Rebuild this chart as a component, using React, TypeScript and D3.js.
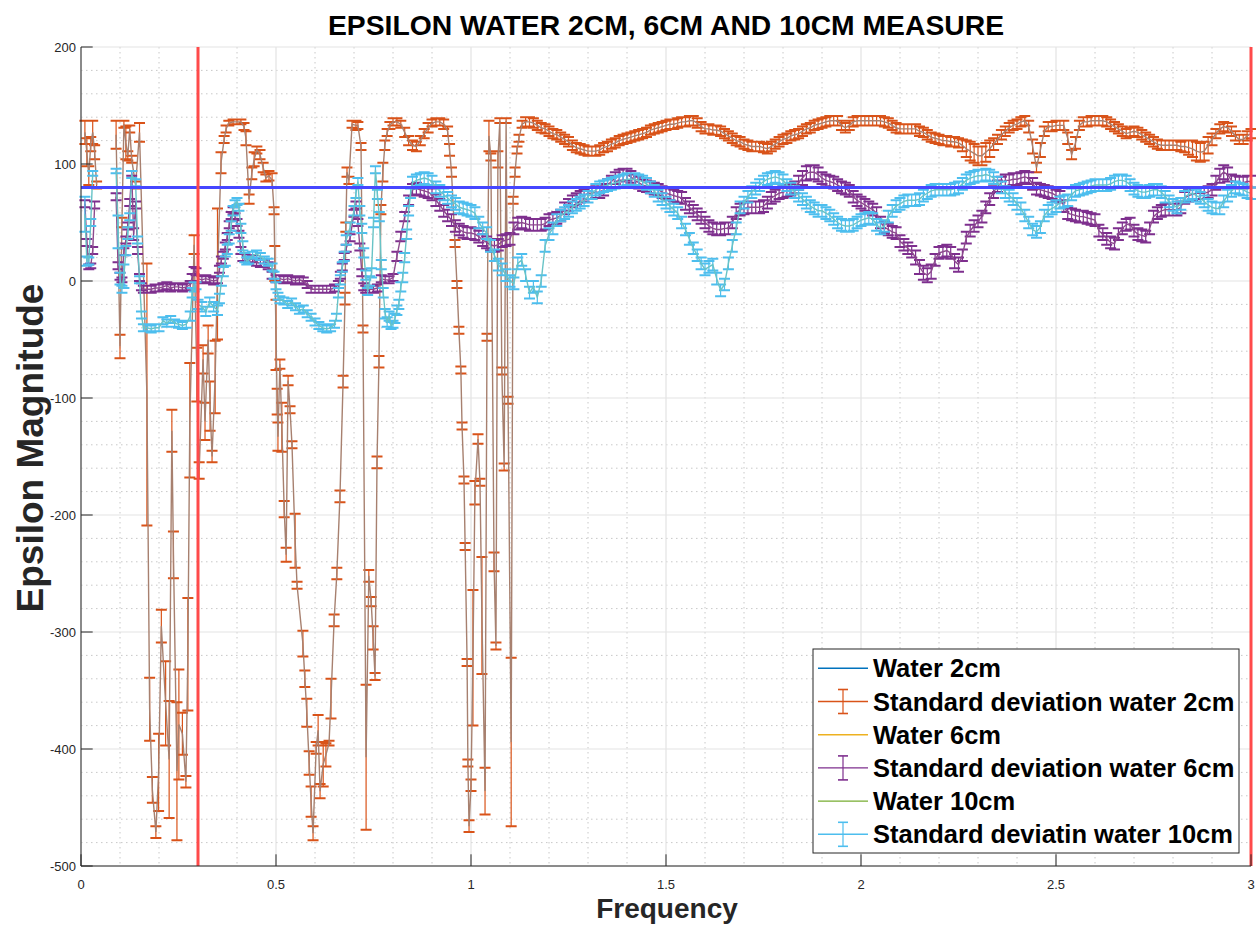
import React from "react";
import * as d3 from "d3";

type Pt = [number, number | null, number];

const TITLE = "EPSILON WATER 2CM, 6CM AND 10CM MEASURE";
const X_LABEL = "Frequency";
const Y_LABEL = "Epsilon Magnitude";
const X_TICKS = [0, 0.5, 1, 1.5, 2, 2.5, 3];
const Y_TICKS = [200, 100, 0, -100, -200, -300, -400, -500];
const REF_EPS = 80;
const REF_FREQS = [0.3, 3];
const LEGEND_ITEMS = [
  { label: "Water 2cm", color: "#0072BD", bar: false },
  { label: "Standard deviation water 2cm", color: "#D95319", bar: true },
  { label: "Water 6cm", color: "#EDB120", bar: false },
  { label: "Standard deviation water 6cm", color: "#7E2F8E", bar: true },
  { label: "Water 10cm", color: "#77AC30", bar: false },
  { label: "Standard deviatin water 10cm", color: "#4DBEEE", bar: true },
];

// [frequency, epsilon mean, standard deviation]
const SD_2CM: Pt[] = [
  [0.010,127,10],[0.015,110,12],[0.020,90,8],[0.025,117,6],[0.030,127,10],[0.035,110,6],[0.040,82,3],[0.060,null,0],
  [0.090,125,12],[0.100,-56,10],[0.105,50,4],[0.110,134,3],[0.115,118,14],[0.120,107,4],[0.125,130,3],[0.130,104,3],[0.140,82,3],[0.150,127,8],
  [0.169,-97,112],[0.176,-366,27],[0.183,-435,11],[0.192,-471,5],[0.199,-420,33],[0.206,-295,14],[0.217,-361,36],[0.226,-409,50],[0.233,-128,18],[0.237,-234,20],[0.246,-419,59],[0.251,-379,47],[0.260,-387,18],[0.269,-428,5],[0.274,-319,48],[0.279,-119,49],[0.290,31,8],
  [0.297,-80,23],[0.303,-162,7],[0.313,-67,12],[0.318,-120,16],[0.326,-50,12],[0.331,-107,21],[0.336,-150,5],[0.344,-82,31],[0.350,6,56],[0.359,101,9],[0.367,121,3],[0.372,130,3],[0.379,135,2],[0.390,136,2],[0.400,136,2],[0.410,136,2],[0.418,132,3],[0.423,122,6],[0.431,70,4],[0.438,92,5],[0.444,104,6],[0.451,112,3],[0.459,108,4],[0.467,97,4],[0.474,88,3],[0.482,90,4],[0.490,86,6],[0.495,60,3],[0.497,15,15],
  [0.500,-46,30],[0.503,-103,11],[0.505,-133,12],[0.510,-71,4],[0.515,-125,21],[0.521,-195,7],[0.526,-234,6],[0.531,-85,4],[0.536,-110,3],[0.541,-140,3],[0.549,-222,23],[0.554,-260,3],[0.569,-310,11],[0.574,-340,7],[0.579,-369,12],[0.585,-412,10],[0.590,-445,13],[0.595,-472,6],[0.603,-399,5],[0.608,-384,13],[0.613,-436,6],[0.621,-413,19],[0.628,-405,10],[0.636,-395,2],[0.641,-357,17],[0.649,-290,5],[0.656,-250,5],[0.664,-184,5],[0.672,-86,5],[0.677,-15,5],[0.679,46,4],[0.682,93,4],[0.687,86,3],[0.695,134,3],[0.705,133,4],[0.710,133,3],[0.718,115,3],[0.723,-41,3],[0.731,-407,62],[0.738,-252,5],[0.744,-274,4],[0.749,-305,10],[0.754,-338,3],[0.759,-155,5],[0.764,-69,5],[0.769,61,4],[0.774,93,8],[0.779,116,4],[0.785,127,3],[0.792,133,3],
  [0.800,136,3],[0.810,136,3],[0.820,134,3],[0.830,127,4],[0.840,120,4],[0.850,116,4],[0.860,115,4],[0.870,120,4],[0.880,126,4],[0.890,131,4],[0.900,135,3],[0.910,136,3],[0.920,136,3],[0.930,134,4],[0.940,128,4],[0.945,112,5],[0.950,93,4],[0.959,32,3],[0.964,-3,3],[0.969,-42,3],[0.974,-76,3],[0.977,-124,3],[0.982,-170,3],[0.985,-227,3],[0.990,-326,3],[0.992,-412,3],[0.995,-466,5],[1.000,-431,5],[1.005,-322,58],[1.010,-181,10],[1.018,-135,4],[1.023,-172,3],[1.028,-286,50],[1.036,-436,20],[1.041,-48,3],[1.046,124,13],[1.051,106,3],[1.059,-240,8],[1.064,-312,3],[1.069,104,7],[1.074,137,2],[1.079,-77,3],[1.085,-159,3],[1.090,137,2],[1.095,-102,3],[1.103,-394,72],[1.108,69,3],[1.113,93,4],[1.118,112,3],[1.123,122,3],[1.131,134,3],
  [1.14,136,4],[1.15,136,4],[1.16,135,4],[1.17,133,4],[1.18,131,4],[1.19,130,4],[1.20,128,4],[1.21,126,4],[1.22,125,4],[1.23,123,4],[1.24,121,4],[1.25,119,4],[1.26,116,4],[1.27,114,4],[1.28,113,4],[1.29,112,4],[1.30,111,4],[1.31,111,4],[1.32,111,4],[1.33,112,4],[1.34,114,4],[1.35,115,4],[1.36,117,4],[1.37,118,4],[1.38,120,4],[1.39,121,4],[1.40,122,4],[1.41,123,4],[1.42,124,4],[1.43,125,4],[1.44,126,4],[1.45,127,4],[1.46,129,4],[1.47,130,4],[1.48,131,4],[1.49,132,4],[1.50,133,4],[1.51,134,4],[1.52,134,4],[1.53,135,4],[1.54,136,4],[1.55,136,4],[1.56,137,4],[1.57,137,4],[1.58,135,4],[1.59,132,4],[1.60,130,4],[1.61,130,4],[1.62,129,4],[1.63,129,4],[1.64,128,4],[1.65,126,4],[1.66,124,4],[1.67,122,4],[1.68,120,4],[1.69,119,4],[1.70,117,4],[1.71,116,4],[1.72,115,4],[1.73,115,4],[1.74,115,4],[1.75,114,4],[1.76,113,4],[1.77,115,4],[1.78,117,4],[1.79,119,4],[1.80,121,4],[1.81,122,4],[1.82,124,4],[1.83,125,4],[1.84,126,4],[1.85,128,4],[1.86,130,4],[1.87,131,4],[1.88,133,4],[1.89,134,4],[1.90,135,4],[1.91,136,4],[1.92,137,4],[1.93,137,4],[1.94,137,4],[1.95,133,4],[1.96,131,4],[1.97,133,4],[1.98,136,4],[1.99,137,4],
  [2.00,137,4],[2.01,137,4],[2.02,137,4],[2.03,137,4],[2.04,137,4],[2.05,137,4],[2.06,136,4],[2.07,135,4],[2.08,133,4],[2.09,131,4],[2.10,130,4],[2.11,130,4],[2.12,130,4],[2.13,130,4],[2.14,130,4],[2.15,128,4],[2.16,127,4],[2.17,125,4],[2.18,123,4],[2.19,122,4],[2.20,121,4],[2.21,120,4],[2.22,120,4],[2.23,119,4],[2.24,119,4],[2.25,118,4],[2.26,116,5],[2.27,113,7],[2.28,111,8],[2.29,109,8],[2.30,107,8],[2.31,107,8],[2.32,110,8],[2.33,113,7],[2.34,117,5],[2.35,121,4],[2.36,125,4],[2.37,128,4],[2.38,131,4],[2.39,133,4],[2.40,134,4],[2.41,136,4],[2.42,137,4],[2.43,132,5],[2.44,115,6],[2.45,97,4],[2.46,112,6],[2.47,128,4],[2.48,132,4],[2.49,132,4],[2.50,133,4],[2.51,133,4],[2.52,133,4],[2.53,122,5],[2.54,108,4],[2.55,118,5],[2.56,133,4],[2.57,136,4],[2.58,136,4],[2.59,137,4],[2.60,137,4],[2.61,137,4],[2.62,137,4],[2.63,136,4],[2.64,134,4],[2.65,132,4],[2.66,130,4],[2.67,128,4],[2.68,126,4],[2.69,127,4],[2.70,128,4],[2.71,127,4],[2.72,125,4],[2.73,123,4],[2.74,121,4],[2.75,119,4],[2.76,117,4],[2.77,116,4],[2.78,116,4],[2.79,116,4],[2.80,116,4],[2.81,116,4],[2.82,115,4],[2.83,115,5],[2.84,114,6],[2.85,113,7],[2.86,111,8],[2.87,110,8],[2.88,111,8],[2.89,116,7],[2.90,121,5],[2.91,126,4],[2.92,130,4],[2.93,132,4],[2.94,131,4],[2.95,128,4],[2.96,124,4],[2.97,121,4],[2.98,121,4],[2.99,124,4],[3.00,126,4],
];

const SD_6CM: Pt[] = [
  [0.010,66,3],[0.015,33,3],[0.020,12,2],[0.025,13,2],[0.030,26,3],[0.035,65,3],[0.060,null,0],
  [0.090,72,3],[0.095,13,3],[0.100,4,3],[0.105,1,2],[0.110,25,3],[0.115,35,3],[0.120,47,3],[0.125,67,3],[0.130,92,2],[0.135,40,5],[0.140,65,3],[0.145,26,3],[0.150,3,3],[0.155,-5,3],
  [0.160,-7,3],[0.170,-7,3],[0.180,-7,3],[0.190,-6,3],[0.200,-6,3],[0.210,-5,3],[0.220,-4,3],[0.230,-6,3],[0.240,-5,3],[0.250,-5,3],[0.260,-6,3],[0.270,-5,3],[0.280,-3,3],[0.285,3,3],[0.290,9,3],[0.295,8,3],[0.300,2,3],[0.310,1,3],[0.320,2,3],[0.330,1,3],[0.340,0,3],[0.350,1,3],[0.355,10,3],[0.360,18,3],[0.365,22,3],[0.370,30,3],[0.375,38,3],[0.380,48,3],[0.385,56,3],[0.390,60,3],[0.395,55,3],[0.400,50,3],[0.405,40,3],[0.410,26,3],[0.415,20,3],[0.420,20,3],[0.430,18,3],[0.440,19,3],[0.450,16,3],[0.460,15,3],[0.470,15,3],[0.480,13,3],[0.490,5,3],
  [0.500,2,3],[0.510,2,3],[0.520,1,3],[0.530,2,3],[0.540,1,3],[0.550,0,3],[0.560,1,3],[0.570,0,3],[0.580,-3,3],[0.590,-7,3],[0.600,-7,3],[0.610,-7,3],[0.620,-7,3],[0.630,-7,3],[0.640,-7,3],[0.650,-6,3],[0.660,-3,3],[0.665,5,3],[0.670,12,3],[0.675,21,3],[0.680,28,3],[0.690,37,3],[0.700,58,3],[0.705,65,3],[0.710,50,3],[0.715,29,3],[0.720,7,3],[0.725,-5,3],[0.730,-7,3],[0.740,-7,3],[0.750,-7,3],[0.760,-6,3],[0.770,2,3],[0.780,1,3],[0.790,1,3],
  [0.800,3,3],[0.810,21,4],[0.820,38,4],[0.830,55,4],[0.840,69,4],[0.850,78,5],[0.86,79,5],[0.87,78,5],[0.88,77,5],[0.89,76,5],[0.90,74,5],[0.91,69,5],[0.92,65,5],[0.93,60,5],[0.94,56,5],[0.95,52,5],[0.96,47,5],[0.97,44,5],[0.98,42,5],[0.99,41,5],
  [1.00,41,5],[1.01,40,5],[1.02,38,5],[1.03,35,5],[1.04,33,5],[1.05,31,5],[1.06,30,5],[1.07,31,5],[1.08,34,5],[1.09,35,5],[1.10,36,5],[1.11,45,5],[1.12,49,5],[1.13,50,5],[1.14,49,5],[1.15,48,5],[1.16,48,5],[1.17,48,5],[1.18,48,5],[1.19,49,5],[1.20,52,5],[1.21,53,5],[1.22,54,5],[1.23,56,5],[1.24,62,5],[1.25,65,5],[1.26,68,5],[1.27,70,5],[1.28,72,5],[1.29,73,5],[1.30,75,5],[1.31,75,5],[1.32,76,5],[1.33,76,5],[1.34,78,5],[1.35,82,5],[1.36,85,5],[1.37,88,5],[1.38,90,5],[1.39,91,5],[1.40,91,5],[1.41,89,5],[1.42,86,5],[1.43,84,5],[1.44,82,5],[1.45,81,5],[1.46,80,5],[1.47,79,5],[1.48,78,5],[1.49,76,5],[1.50,75,5],[1.51,74,5],[1.52,73,5],[1.53,72,5],[1.54,71,5],[1.55,66,5],[1.56,63,5],[1.57,60,5],[1.58,57,5],[1.59,54,5],[1.60,50,5],[1.61,47,5],[1.62,45,5],[1.63,44,5],[1.64,44,5],[1.65,45,5],[1.66,45,5],[1.67,50,5],[1.68,58,5],[1.69,61,5],[1.70,62,5],[1.71,63,5],[1.72,63,5],[1.73,63,5],[1.74,63,5],[1.75,64,5],[1.76,67,5],[1.77,71,5],[1.78,73,5],[1.79,75,5],[1.80,76,5],[1.81,77,5],[1.82,78,5],[1.83,80,5],[1.84,84,6],[1.85,88,6],[1.86,92,6],[1.87,93,6],[1.88,93,6],[1.89,91,6],[1.90,88,5],[1.91,86,5],[1.92,85,5],[1.93,84,5],[1.94,82,5],[1.95,80,5],[1.96,79,5],[1.97,77,5],[1.98,72,5],[1.99,69,5],
  [2.00,67,5],[2.01,65,5],[2.02,63,5],[2.03,61,5],[2.04,58,5],[2.05,50,5],[2.06,46,5],[2.07,44,5],[2.08,42,5],[2.09,41,5],[2.10,34,5],[2.11,31,5],[2.12,28,5],[2.13,25,5],[2.14,20,6],[2.15,12,6],[2.16,7,6],[2.17,5,6],[2.18,8,6],[2.19,18,5],[2.20,24,5],[2.21,25,5],[2.22,26,5],[2.23,24,5],[2.24,17,6],[2.25,14,6],[2.26,22,5],[2.27,37,5],[2.28,43,5],[2.29,47,5],[2.30,51,5],[2.31,55,5],[2.32,63,5],[2.33,70,5],[2.34,76,5],[2.35,81,5],[2.36,84,5],[2.37,86,5],[2.38,86,5],[2.39,87,5],[2.40,87,5],[2.41,88,5],[2.42,89,5],[2.43,88,5],[2.44,83,5],[2.45,79,5],[2.46,78,5],[2.47,77,5],[2.48,76,5],[2.49,75,5],[2.50,73,5],[2.51,72,5],[2.52,64,5],[2.53,58,5],[2.54,57,5],[2.55,56,5],[2.56,55,5],[2.57,55,5],[2.58,54,5],[2.59,53,5],[2.60,52,5],[2.61,43,5],[2.62,40,5],[2.63,36,5],[2.64,33,5],[2.65,32,5],[2.66,40,5],[2.67,45,5],[2.68,48,5],[2.69,49,5],[2.70,43,5],[2.71,40,5],[2.72,39,5],[2.73,38,5],[2.74,45,5],[2.75,55,5],[2.76,58,5],[2.77,60,5],[2.78,61,5],[2.79,61,5],[2.80,61,5],[2.81,61,5],[2.82,63,5],[2.83,71,5],[2.84,73,5],[2.85,74,5],[2.86,75,5],[2.87,75,5],[2.88,75,5],[2.89,76,5],[2.90,78,5],[2.91,84,6],[2.92,90,6],[2.93,93,6],[2.94,91,6],[2.95,86,5],[2.96,85,5],[2.97,84,5],[2.98,84,5],[2.99,85,5],[3.00,85,5],
];

const SD_10CM: Pt[] = [
  [0.010,57,15],[0.015,17,4],[0.020,17,3],[0.025,50,3],[0.030,92,2],[0.060,null,0],
  [0.090,94,2],[0.095,42,14],[0.100,2,5],[0.105,-7,3],[0.110,4,10],[0.115,26,4],[0.120,41,5],[0.125,55,3],[0.130,91,3],[0.140,84,3],[0.145,35,3],[0.150,1,3],[0.155,-29,3],
  [0.160,-40,3],[0.165,-40,3],[0.170,-40,3],[0.180,-41,3],[0.190,-40,3],[0.200,-40,3],[0.210,-34,3],[0.220,-36,3],[0.230,-33,3],[0.240,-36,3],[0.250,-37,3],[0.260,-38,3],[0.270,-37,3],[0.280,-30,4],[0.285,-10,4],[0.290,-5,4],[0.295,-4,3],[0.300,-20,4],[0.310,-22,4],[0.320,-26,4],[0.330,-18,4],[0.340,-22,4],[0.350,-25,4],[0.355,-15,4],[0.360,0,4],[0.365,8,4],[0.370,17,4],[0.375,27,4],[0.380,36,4],[0.385,47,4],[0.390,60,4],[0.395,66,3],[0.400,68,3],[0.405,63,3],[0.410,45,4],[0.415,30,4],[0.420,20,4],[0.425,17,3],[0.430,18,3],[0.440,22,3],[0.450,23,3],[0.460,21,3],[0.470,18,3],[0.480,16,3],[0.490,12,3],[0.495,5,3],
  [0.500,-4,3],[0.505,-13,3],[0.510,-16,3],[0.520,-17,3],[0.530,-20,3],[0.540,-18,3],[0.550,-22,3],[0.560,-25,3],[0.570,-24,3],[0.580,-28,3],[0.590,-31,3],[0.600,-35,3],[0.610,-38,3],[0.620,-40,3],[0.630,-41,3],[0.640,-40,3],[0.650,-37,3],[0.655,-31,3],[0.660,-10,4],[0.665,1,4],[0.670,12,4],[0.675,21,4],[0.680,35,4],[0.690,46,4],[0.700,60,4],[0.705,75,4],[0.710,85,3],[0.715,60,4],[0.720,45,4],[0.725,24,4],[0.730,5,4],[0.735,-9,3],[0.740,0,4],[0.745,7,4],[0.750,50,4],[0.755,95,3],[0.760,74,4],[0.765,55,4],[0.770,14,4],[0.775,-10,4],[0.780,-28,4],[0.785,-35,4],[0.790,-30,4],[0.795,-38,3],
  [0.800,-37,3],[0.805,-32,4],[0.810,-25,4],[0.815,-20,4],[0.820,-5,4],[0.825,3,4],[0.830,20,4],[0.835,40,4],[0.840,60,4],[0.845,75,4],[0.850,84,5],[0.86,86,5],[0.87,87,5],[0.88,88,5],[0.89,87,5],[0.90,85,5],[0.91,80,5],[0.92,77,5],[0.93,74,5],[0.94,71,5],[0.95,68,5],[0.96,66,5],[0.97,63,5],[0.98,62,5],[0.99,61,5],
  [1.00,60,5],[1.01,58,5],[1.02,50,5],[1.03,45,5],[1.04,41,5],[1.05,30,5],[1.06,22,5],[1.07,14,5],[1.08,10,5],[1.09,5,5],[1.10,0,5],[1.11,-2,5],[1.12,15,5],[1.13,18,5],[1.14,5,5],[1.15,-10,5],[1.16,-5,5],[1.17,-14,5],[1.18,0,5],[1.19,30,5],[1.20,40,5],[1.21,45,5],[1.22,52,5],[1.23,56,5],[1.24,58,5],[1.25,60,5],[1.26,63,5],[1.27,65,5],[1.28,67,5],[1.29,69,5],[1.30,72,5],[1.31,75,5],[1.32,78,5],[1.33,80,5],[1.34,81,5],[1.35,82,5],[1.36,83,5],[1.37,84,5],[1.38,85,5],[1.39,86,5],[1.40,87,5],[1.41,87,5],[1.42,87,5],[1.43,86,5],[1.44,85,5],[1.45,83,5],[1.46,80,5],[1.47,77,5],[1.48,73,5],[1.49,70,5],[1.50,67,5],[1.51,64,5],[1.52,61,5],[1.53,58,5],[1.54,50,5],[1.55,44,5],[1.56,36,5],[1.57,28,5],[1.58,22,5],[1.59,15,5],[1.60,10,5],[1.61,12,5],[1.62,14,5],[1.63,2,5],[1.64,-8,5],[1.65,-3,5],[1.66,15,5],[1.67,30,5],[1.68,45,5],[1.69,63,5],[1.70,67,5],[1.71,72,5],[1.72,76,5],[1.73,79,5],[1.74,82,5],[1.75,85,5],[1.76,87,5],[1.77,88,5],[1.78,89,5],[1.79,88,5],[1.80,86,5],[1.81,82,5],[1.82,79,5],[1.83,76,5],[1.84,73,5],[1.85,70,5],[1.86,67,5],[1.87,64,5],[1.88,62,5],[1.89,60,5],[1.90,60,5],[1.91,58,5],[1.92,56,5],[1.93,53,5],[1.94,50,5],[1.95,48,5],[1.96,47,5],[1.97,47,5],[1.98,48,5],[1.99,50,5],
  [2.00,52,5],[2.01,53,5],[2.02,54,5],[2.03,53,5],[2.04,48,5],[2.05,45,5],[2.06,47,5],[2.07,55,5],[2.08,60,5],[2.09,64,5],[2.10,66,5],[2.11,68,5],[2.12,69,5],[2.13,69,5],[2.14,69,5],[2.15,70,5],[2.16,73,5],[2.17,75,5],[2.18,77,5],[2.19,78,5],[2.20,78,5],[2.21,78,5],[2.22,78,5],[2.23,78,5],[2.24,79,5],[2.25,80,5],[2.26,83,5],[2.27,86,5],[2.28,88,5],[2.29,89,5],[2.30,90,5],[2.31,90,5],[2.32,91,5],[2.33,90,5],[2.34,88,5],[2.35,84,5],[2.36,80,5],[2.37,76,5],[2.38,73,5],[2.39,70,5],[2.40,66,5],[2.41,62,5],[2.42,56,5],[2.43,50,5],[2.44,44,5],[2.45,42,5],[2.46,46,5],[2.47,56,5],[2.48,60,5],[2.49,62,5],[2.50,64,5],[2.51,67,5],[2.52,68,5],[2.53,69,5],[2.54,74,5],[2.55,77,5],[2.56,78,5],[2.57,79,5],[2.58,80,5],[2.59,81,5],[2.60,82,5],[2.61,82,5],[2.62,82,5],[2.63,82,5],[2.64,83,5],[2.65,85,5],[2.66,86,5],[2.67,86,5],[2.68,85,5],[2.69,82,5],[2.70,79,5],[2.71,77,5],[2.72,76,5],[2.73,76,5],[2.74,77,5],[2.75,78,5],[2.76,78,5],[2.77,76,5],[2.78,72,5],[2.79,68,5],[2.80,65,5],[2.81,63,5],[2.82,66,5],[2.83,72,5],[2.84,74,5],[2.85,75,5],[2.86,73,5],[2.87,71,5],[2.88,68,5],[2.89,65,5],[2.90,63,5],[2.91,62,5],[2.92,62,5],[2.93,68,5],[2.94,73,5],[2.95,77,5],[2.96,80,5],[2.97,79,5],[2.98,78,5],[2.99,76,5],[3.00,75,5],
];

const FONT = "'Liberation Sans', Arial, Helvetica, sans-serif";
const AXIS_COLOR = "#262626";

const x = d3.scaleLinear().domain([0, 3]).range([81, 1251]);
const y = d3.scaleLinear().domain([-500, 200]).range([866, 47]);

const lineGen = d3
  .line<Pt>()
  .defined((d) => d[1] !== null)
  .x((d) => x(d[0]))
  .y((d) => y(d[1] as number));

function ErrorSeries({ data, color, lineColor }: { data: Pt[]; color: string; lineColor: string }) {
  const cap = 5.5;
  const valid = data.filter((d) => d[1] !== null);
  const bars = valid
    .map((d) => {
      const cx = x(d[0]);
      const yt = y((d[1] as number) + d[2]);
      const yb = y((d[1] as number) - d[2]);
      return `M${cx},${yt}V${yb}`;
    })
    .join("");
  const caps = valid
    .map((d) => {
      const cx = x(d[0]);
      const yt = y((d[1] as number) + d[2]);
      const yb = y((d[1] as number) - d[2]);
      return `M${cx - cap},${yt}H${cx + cap}M${cx - cap},${yb}H${cx + cap}`;
    })
    .join("");
  return (
    <g>
      <path d={bars} stroke={color} strokeWidth={1.2} fill="none" />
      <path d={caps} stroke={color} strokeWidth={2} fill="none" />
      <path d={lineGen(data) || ""} stroke={lineColor} strokeWidth={1.4} fill="none" />
    </g>
  );
}

export default function App() {
  const minorX = d3.range(0, 31).map((i) => i / 10).filter((v) => Math.abs(v * 2 - Math.round(v * 2)) > 1e-6);
  const minorY = d3.range(-500, 201, 20).filter((v) => v % 100 !== 0);
  const legendX = 813;
  const legendY = 649;
  const rowH = 33.2;

  return (
    <svg
      width={1256}
      height={926}
      style={{ position: "absolute", left: 0, top: 0, background: "#fff" }}
      fontFamily={FONT}
    >
      <rect x={0} y={0} width={1256} height={926} fill="#ffffff" />
      {minorX.map((v) => (
        <line key={"mx" + v} x1={x(v)} x2={x(v)} y1={y(200)} y2={y(-500)} stroke="#c8c8c8" strokeWidth={1} strokeDasharray="1.5,3.5" />
      ))}
      {minorY.map((v) => (
        <line key={"my" + v} x1={x(0)} x2={x(3)} y1={y(v)} y2={y(v)} stroke="#c8c8c8" strokeWidth={1} strokeDasharray="1.5,3.5" />
      ))}
      {X_TICKS.map((v) => (
        <line key={"gx" + v} x1={x(v)} x2={x(v)} y1={y(200)} y2={y(-500)} stroke="#e3e3e3" strokeWidth={1.2} />
      ))}
      {Y_TICKS.map((v) => (
        <line key={"gy" + v} x1={x(0)} x2={x(3)} y1={y(v)} y2={y(v)} stroke="#e3e3e3" strokeWidth={1.2} />
      ))}

      <ErrorSeries data={SD_2CM} color="#D95319" lineColor="#a7806f" />
      <ErrorSeries data={SD_6CM} color="#7E2F8E" lineColor="#8d4a8d" />
      <ErrorSeries data={SD_10CM} color="#4DBEEE" lineColor="#68c3c6" />

      <line x1={x(0)} x2={x(3)} y1={y(REF_EPS)} y2={y(REF_EPS)} stroke="#4646ff" strokeWidth={3} />
      {REF_FREQS.map((f) => (
        <line key={"rf" + f} x1={x(f)} x2={x(f)} y1={y(200)} y2={y(-500)} stroke="#ff4a4a" strokeWidth={3} />
      ))}

      <line x1={x(0)} x2={x(0)} y1={y(200)} y2={y(-500)} stroke={AXIS_COLOR} strokeWidth={1} />
      <line x1={x(0)} x2={x(3)} y1={y(-500)} y2={y(-500)} stroke={AXIS_COLOR} strokeWidth={1} />
      {Y_TICKS.map((v) => (
        <g key={"ty" + v}>
          <line x1={x(0)} x2={x(0) + 11.7} y1={y(v)} y2={y(v)} stroke={AXIS_COLOR} strokeWidth={1} />
          <text x={x(0) - 5} y={y(v)} dy="0.35em" textAnchor="end" fontSize={13} fill={AXIS_COLOR}>
            {String(v)}
          </text>
        </g>
      ))}
      {X_TICKS.map((v) => (
        <g key={"tx" + v}>
          <line x1={x(v)} x2={x(v)} y1={y(-500)} y2={y(-500) - 11.7} stroke={AXIS_COLOR} strokeWidth={1} />
          <text x={x(v)} y={889} textAnchor="middle" fontSize={13} fill={AXIS_COLOR}>
            {String(v)}
          </text>
        </g>
      ))}

      <text x={666} y={35} textAnchor="middle" fontSize={28.3} fontWeight="bold" fill="#000">
        {TITLE}
      </text>
      <text x={667} y={918} textAnchor="middle" fontSize={28} fontWeight="bold" fill={AXIS_COLOR}>
        {X_LABEL}
      </text>
      <text
        transform={`translate(43,448) rotate(-90)`}
        textAnchor="middle"
        fontSize={37}
        fontWeight="bold"
        fill={AXIS_COLOR}
      >
        {Y_LABEL}
      </text>

      <rect x={legendX} y={legendY} width={426} height={204} fill="#ffffff" stroke={AXIS_COLOR} strokeWidth={1} />
      {LEGEND_ITEMS.map((it, i) => {
        const cy = 668.3 + i * rowH;
        return (
          <g key={it.label}>
            <line x1={818} x2={868} y1={cy} y2={cy} stroke={it.color} strokeWidth={1.4} />
            {it.bar && (
              <g stroke={it.color}>
                <line x1={843} x2={843} y1={cy - 12} y2={cy + 12} strokeWidth={1.2} />
                <line x1={838} x2={848} y1={cy - 12} y2={cy - 12} strokeWidth={1.6} />
                <line x1={838} x2={848} y1={cy + 12} y2={cy + 12} strokeWidth={1.6} />
              </g>
            )}
            <text x={873} y={cy + 9} fontSize={25.5} fontWeight="bold" fill="#000">
              {it.label}
            </text>
          </g>
        );
      })}
    </svg>
  );
}
